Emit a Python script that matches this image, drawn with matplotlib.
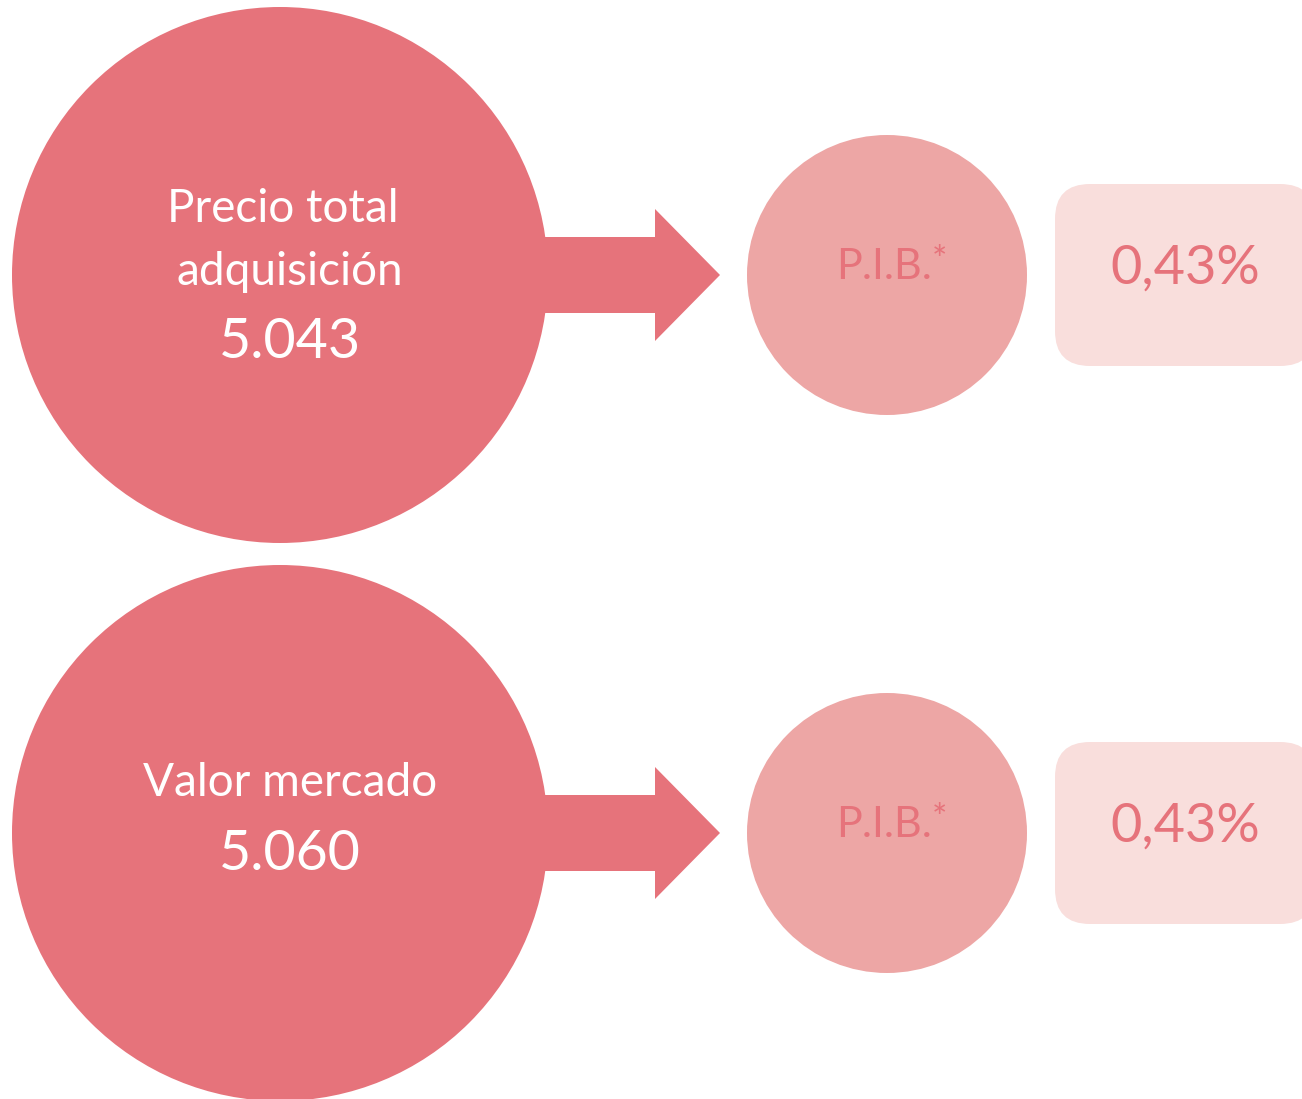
import matplotlib.pyplot as plt
from matplotlib.patches import Circle, Polygon, FancyBboxPatch

# datos
etiquetas = ["Precio total\nadquisición", "Valor mercado"]
valores = ["5.043", "5.060"]
indicador = ["P.I.B.", "P.I.B."]
porcentajes = ["0,43%", "0,43%"]

# colores
rojo = "#E6737B"
rosa = "#EDA6A5"
rosa_claro = "#F9DEDC"

plt.rcParams['font.family'] = ['Lato', 'DejaVu Sans']

fig = plt.figure(figsize=(13.02, 10.99), dpi=100)
ax = fig.add_axes([0, 0, 1, 1])
ax.set_xlim(0, 1302)
ax.set_ylim(1099, 0)
ax.set_aspect('equal')
ax.axis('off')

centros_y = [275, 833]

for i, cy in enumerate(centros_y):
    # circulo grande
    ax.add_patch(Circle((280, cy), 268, color=rojo, lw=0))
    # flecha
    flecha = [(540, cy - 38), (655, cy - 38), (655, cy - 66), (720, cy),
              (655, cy + 66), (655, cy + 38), (540, cy + 38)]
    ax.add_patch(Polygon(flecha, closed=True, color=rojo, lw=0))
    # circulo pequeño
    ax.add_patch(Circle((887, cy), 140, color=rosa, lw=0))
    # caja redondeada
    ax.add_patch(FancyBboxPatch((1055 + 35, cy - 91 + 35), 260 - 70, 182 - 70,
                                boxstyle="round,pad=35", color=rosa_claro, lw=0))

    # textos del circulo grande
    if "\n" in etiquetas[i]:
        lineas = etiquetas[i].split("\n")
        ax.text(283, cy - 66, lineas[0], color="white", fontsize=33,
                ha='center', va='center')
        ax.text(290, cy - 3, lineas[1], color="white", fontsize=33,
                ha='center', va='center')
        ax.text(290, cy + 67, valores[i], color="white", fontsize=40,
                ha='center', va='center')
    else:
        ax.text(290, cy - 50, etiquetas[i], color="white", fontsize=33,
                ha='center', va='center')
        ax.text(290, cy + 22, valores[i], color="white", fontsize=40,
                ha='center', va='center')

    # P.I.B.*
    ax.text(884, cy - 8, indicador[i], color=rojo, fontsize=31,
            ha='center', va='center')
    ax.text(939, cy - 14, "*", color=rojo, fontsize=26,
            ha='center', va='center')

    # porcentaje
    ax.text(1185, cy - 7, porcentajes[i], color=rojo, fontsize=39,
            ha='center', va='center')

fig.savefig("out.png", dpi=100)
